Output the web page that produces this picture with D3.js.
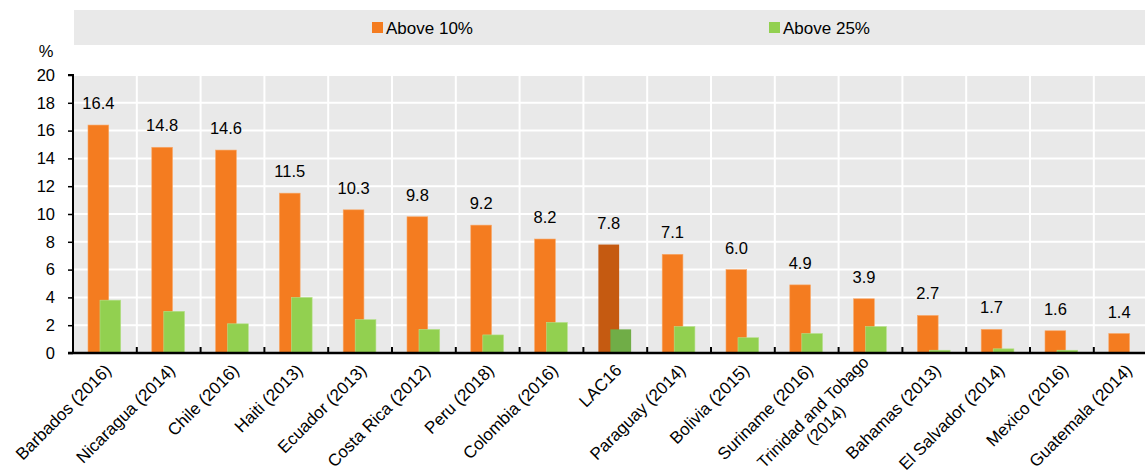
<!DOCTYPE html>
<html>
<head>
<meta charset="utf-8">
<script src="https://cdn.jsdelivr.net/npm/d3@7"></script>
<style>
  html, body { margin: 0; padding: 0; background: #ffffff; }
  svg { display: block; font-family: "Liberation Sans", Arial, sans-serif; }
</style>
</head>
<body>
<svg id="chart" width="1145" height="475"></svg>
<script>
// Share of households (%) by threshold, LAC countries with survey year
const categories = [
  "Barbados (2016)", "Nicaragua (2014)", "Chile (2016)", "Haiti (2013)",
  "Ecuador (2013)", "Costa Rica (2012)", "Peru (2018)", "Colombia (2016)",
  "LAC16", "Paraguay (2014)", "Bolivia (2015)", "Suriname (2016)",
  "Trinidad and Tobago\n(2014)", "Bahamas (2013)", "El Salvador (2014)",
  "Mexico (2016)", "Guatemala (2014)"
];
const above10 = [16.4, 14.8, 14.6, 11.5, 10.3, 9.8, 9.2, 8.2, 7.8, 7.1, 6.0, 4.9, 3.9, 2.7, 1.7, 1.6, 1.4];
const above25 = [3.8, 3.0, 2.1, 4.0, 2.4, 1.7, 1.3, 2.2, 1.7, 1.9, 1.1, 1.4, 1.9, 0.2, 0.3, 0.2, null];
const seriesNames = ["Above 10%", "Above 25%"];
const yTicks = [0, 2, 4, 6, 8, 10, 12, 14, 16, 18, 20];
const highlight = "LAC16";

const colors = {
  a10: "#f47c20", a25: "#92d050",
  a10Hi: "#c55a11", a25Hi: "#70ad47",
  panel: "#e9e9e9", grid: "#ffffff", text: "#000000"
};

const svg = d3.select("#chart");
const plotLeft = 73, plotTop = 75, plotBottom = 353;
const bandW = 63.8;
const plotRight = plotLeft + bandW * categories.length;

const x = d3.scaleBand().domain(categories).range([plotLeft, plotRight]).paddingInner(0).paddingOuter(0);
const y = d3.scaleLinear().domain([0, 20]).range([plotBottom, plotTop]);

// Legend strip
svg.append("rect").attr("x", 74).attr("y", 10).attr("width", 1145 - 74).attr("height", 35)
  .attr("fill", colors.panel);
const legendItems = [
  { name: seriesNames[0], color: colors.a10, x: 372 },
  { name: seriesNames[1], color: colors.a25, x: 769 }
];
const lg = svg.selectAll("g.legend").data(legendItems).join("g").attr("class", "legend")
  .attr("transform", d => `translate(${d.x},22)`);
lg.append("rect").attr("width", 11).attr("height", 11).attr("fill", d => d.color);
lg.append("text").attr("x", 14).attr("y", 12).attr("font-size", 17).attr("fill", colors.text)
  .text(d => d.name);

// Plot panel
svg.append("rect").attr("x", plotLeft).attr("y", plotTop)
  .attr("width", plotRight - plotLeft).attr("height", plotBottom - plotTop)
  .attr("fill", colors.panel);

// Horizontal grid
svg.append("g").selectAll("line").data(yTicks.filter(t => t > 0)).join("line")
  .attr("x1", plotLeft).attr("x2", plotRight)
  .attr("y1", d => y(d)).attr("y2", d => y(d))
  .attr("stroke", colors.grid).attr("stroke-width", 2);

// Vertical grid at category boundaries
svg.append("g").selectAll("line").data(categories.slice(1)).join("line")
  .attr("x1", d => x(d)).attr("x2", d => x(d))
  .attr("y1", plotTop).attr("y2", plotBottom)
  .attr("stroke", colors.grid).attr("stroke-width", 2);

const bw = x.bandwidth();
const barW = bw * 0.325;

// Above 10% bars
svg.append("g").selectAll("rect").data(categories).join("rect")
  .attr("x", d => x(d) + bw * 0.235)
  .attr("width", barW)
  .attr("y", (d, i) => y(above10[i]))
  .attr("height", (d, i) => y(0) - y(above10[i]))
  .attr("fill", d => d === highlight ? colors.a10Hi : colors.a10)
  .attr("stroke", d => d === highlight ? "none" : "#f8a868").attr("stroke-width", 0.6);

// Above 25% bars (drawn over the first series)
svg.append("g").selectAll("rect").data(categories.filter((d, i) => above25[i] != null)).join("rect")
  .attr("x", d => x(d) + bw * 0.423)
  .attr("width", barW)
  .attr("y", d => y(above25[categories.indexOf(d)]))
  .attr("height", d => y(0) - y(above25[categories.indexOf(d)]))
  .attr("fill", d => d === highlight ? colors.a25Hi : colors.a25)
  .attr("stroke", d => d === highlight ? "none" : "#b5e08a").attr("stroke-width", 0.6);

// Value labels above the first series
svg.append("g").selectAll("text").data(categories).join("text")
  .attr("x", d => x(d) + bw * 0.235 + barW / 2)
  .attr("y", (d, i) => y(above10[i]) - 16)
  .attr("text-anchor", "middle").attr("font-size", 16.5).attr("fill", colors.text)
  .text((d, i) => d3.format(".1f")(above10[i]));

// Y axis
const yAxis = d3.axisLeft(y).tickValues(yTicks).tickSize(5).tickPadding(13).tickFormat(d3.format("d"));
const gy = svg.append("g").attr("transform", `translate(${plotLeft},0)`).call(yAxis);
gy.select(".domain").attr("stroke", "#000").attr("stroke-width", 2)
  .attr("d", `M-5,${plotTop}H0V${plotBottom}`);
gy.selectAll(".tick line").attr("stroke", "#000").attr("stroke-width", 1.5);
gy.selectAll(".tick text").attr("font-size", 16.5).attr("fill", colors.text)
  .attr("font-family", "Liberation Sans, Arial, sans-serif");

svg.append("text").attr("x", 46).attr("y", 57).attr("text-anchor", "middle")
  .attr("font-size", 16.5).attr("fill", colors.text).text("%");

// X axis: baseline with inward ticks at category boundaries
svg.append("line").attr("x1", plotLeft - 5).attr("x2", plotRight)
  .attr("y1", plotBottom).attr("y2", plotBottom)
  .attr("stroke", "#000").attr("stroke-width", 2.5);
svg.append("g").selectAll("line").data(categories.slice(1)).join("line")
  .attr("x1", d => x(d)).attr("x2", d => x(d))
  .attr("y1", plotBottom - 6).attr("y2", plotBottom)
  .attr("stroke", "#000").attr("stroke-width", 2);

// Rotated category labels
const lab = svg.append("g").selectAll("text").data(categories).join("text")
  .attr("transform", d => `translate(${x(d) + bw / 2 + 5},369) rotate(-45)`)
  .attr("font-size", 17).attr("fill", colors.text);
lab.each(function (d) {
  const t = d3.select(this);
  const lines = d.split("\n");
  if (lines.length === 1) {
    t.attr("text-anchor", "end").attr("dy", "0.2em").text(d);
  } else {
    t.attr("font-size", 16.5);
    const first = t.append("tspan").attr("text-anchor", "end").attr("x", 0).attr("dy", "-0.5em").text(lines[0]);
    const w = first.node().getComputedTextLength();
    lines.slice(1).forEach(s => {
      t.append("tspan").attr("text-anchor", "middle").attr("x", -w / 2).attr("dy", "1.1em").text(s);
    });
  }
});
</script>
</body>
</html>
